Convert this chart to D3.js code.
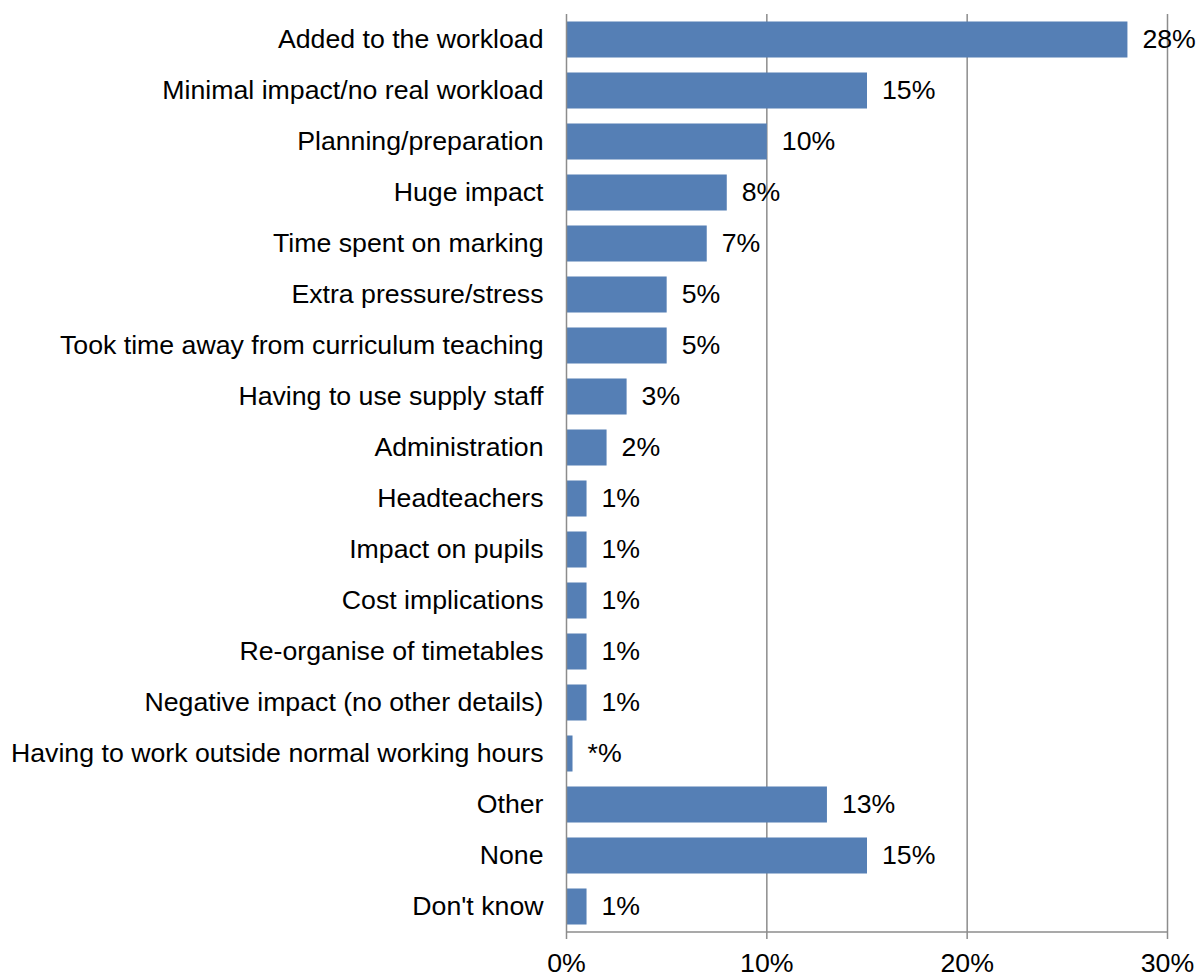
<!DOCTYPE html>
<html>
<head>
<meta charset="utf-8">
<script src="https://cdn.jsdelivr.net/npm/d3@7"></script>
<style>
  html, body { margin: 0; padding: 0; background: #fff; }
  svg text { font-family: "Liberation Sans", Arial, sans-serif; fill: #000; }
</style>
</head>
<body>
<svg id="chart" width="1199" height="976"></svg>
<script>
const categories = [
  "Added to the workload",
  "Minimal impact/no real workload",
  "Planning/preparation",
  "Huge impact",
  "Time spent on marking",
  "Extra pressure/stress",
  "Took time away from curriculum teaching",
  "Having to use supply staff",
  "Administration",
  "Headteachers",
  "Impact on pupils",
  "Cost implications",
  "Re-organise of timetables",
  "Negative impact (no other details)",
  "Having to work outside normal working hours",
  "Other",
  "None",
  "Don't know"
];
const values = [28, 15, 10, 8, 7, 5, 5, 3, 2, 1, 1, 1, 1, 1, 0.3, 13, 15, 1];
const valueLabels = ["28%", "15%", "10%", "8%", "7%", "5%", "5%", "3%", "2%", "1%", "1%", "1%", "1%", "1%", "*%", "13%", "15%", "1%"];
const xTicks = [0, 10, 20, 30];
const xTickLabels = ["0%", "10%", "20%", "30%"];

const svg = d3.select("#chart");
const plot = { left: 566.5, right: 1167.5, top: 14, bottom: 932 };
const fontSize = 26.7;

const x = d3.scaleLinear().domain([0, 30]).range([plot.left, plot.right]);
const y = d3.scaleBand().domain(categories).range([plot.top, plot.bottom])
  .paddingInner(0.294).paddingOuter(0.147);

// vertical gridlines
svg.append("g").selectAll("line").data(xTicks.slice(1)).join("line")
  .attr("x1", d => x(d)).attr("x2", d => x(d))
  .attr("y1", plot.top).attr("y2", plot.bottom + 7)
  .attr("stroke", "#8c8c8c").attr("stroke-width", 1.5);

// bars
svg.append("g").selectAll("rect").data(values).join("rect")
  .attr("x", x(0))
  .attr("y", (d, i) => y(categories[i]))
  .attr("width", d => x(d) - x(0))
  .attr("height", y.bandwidth())
  .attr("fill", "#557fb5");

// value labels
svg.append("g").selectAll("text").data(values).join("text")
  .attr("x", d => x(d) + 15)
  .attr("y", (d, i) => y(categories[i]) + y.bandwidth() / 2)
  .attr("dy", "0.32em")
  .attr("font-size", fontSize)
  .text((d, i) => valueLabels[i]);

// category labels
svg.append("g").selectAll("text").data(categories).join("text")
  .attr("x", plot.left - 23)
  .attr("y", d => y(d) + y.bandwidth() / 2)
  .attr("dy", "0.32em")
  .attr("text-anchor", "end")
  .attr("font-size", fontSize)
  .text(d => d);

// value axis line and ticks
svg.append("line")
  .attr("x1", plot.left).attr("x2", plot.right)
  .attr("y1", plot.bottom).attr("y2", plot.bottom)
  .attr("stroke", "#8c8c8c").attr("stroke-width", 1.5);
svg.append("line")
  .attr("x1", plot.left).attr("x2", plot.left)
  .attr("y1", plot.top).attr("y2", plot.bottom + 7)
  .attr("stroke", "#8c8c8c").attr("stroke-width", 1.5);

svg.append("g").selectAll("text").data(xTicks).join("text")
  .attr("x", d => x(d))
  .attr("y", 972)
  .attr("text-anchor", "middle")
  .attr("font-size", fontSize)
  .text((d, i) => xTickLabels[i]);
</script>
</body>
</html>
